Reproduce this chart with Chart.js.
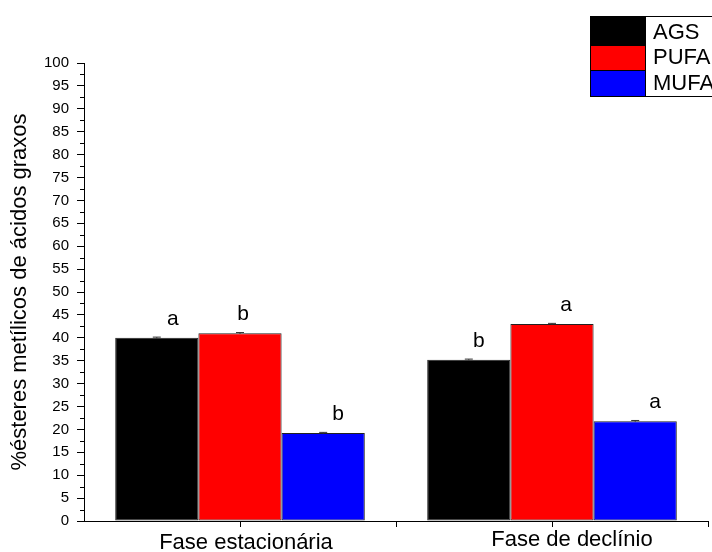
<!DOCTYPE html>
<html>
<head>
<meta charset="utf-8">
<script src="https://cdn.jsdelivr.net/npm/chart.js@4/dist/chart.umd.min.js"></script>
<style>
  html, body { margin: 0; padding: 0; background: #fff; overflow: hidden; }
  #wrap { width: 712px; height: 552px; }
</style>
</head>
<body>
<div id="wrap"><canvas id="fattyChart" width="712" height="552"></canvas></div>
<script>
const phases = ['Fase estacionária', 'Fase de declínio'];
const seriesNames = ['AGS', 'PUFA', 'MUFA'];
const agsValues = [40.0, 35.2];
const pufaValues = [41.0, 43.0];
const mufaValues = [19.2, 21.8];
const agsErrors = [0.15, 0.15];
const pufaErrors = [0.15, 0.15];
const mufaErrors = [0.15, 0.15];
const agsLetters = ['a', 'b'];
const pufaLetters = ['b', 'a'];
const mufaLetters = ['b', 'a'];
const yTicks = [0, 5, 10, 15, 20, 25, 30, 35, 40, 45, 50, 55, 60, 65, 70, 75, 80, 85, 90, 95, 100];

const colors = ['#000000', '#ff0000', '#0000ff'];
const font = "'Liberation Sans', Arial, sans-serif";

// minor ticks, boundary ticks, category labels, error bars, letters, boxed legend
const extras = {
  id: 'extras',
  afterDatasetsDraw(chart) {
    const ctx = chart.ctx;
    const y = chart.scales.y;
    const x = chart.scales.x;
    ctx.save();
    ctx.strokeStyle = '#000';
    ctx.lineWidth = 1;

    // y minor ticks
    for (let v = 2.5; v < 100; v += 5) {
      const py = Math.round(y.getPixelForValue(v)) + 0.5;
      ctx.beginPath();
      ctx.moveTo(x.left - 4, py);
      ctx.lineTo(x.left, py);
      ctx.stroke();
    }
    // x ticks at category boundaries
    for (let i = 1; i <= phases.length; i++) {
      const px = Math.round((x.getPixelForValue(i - 1) + x.getPixelForValue(i)) / 2) + 0.5;
      ctx.beginPath();
      ctx.moveTo(px, y.bottom);
      ctx.lineTo(px, y.bottom + 6);
      ctx.stroke();
    }
    // category labels (the second one sits a bit right and higher in the original)
    const labelShift = [[6, 0], [20, -3]];
    ctx.fillStyle = '#000';
    ctx.font = '22px ' + font;
    ctx.textAlign = 'center';
    ctx.textBaseline = 'alphabetic';
    phases.forEach((p, i) => {
      ctx.fillText(p, x.getPixelForValue(i) + labelShift[i][0], y.bottom + 28 + labelShift[i][1]);
    });

    const errs = [agsErrors, pufaErrors, mufaErrors];
    const letters = [agsLetters, pufaLetters, mufaLetters];
    const letterShift = [[16, 10], [3, 14], [15, 20]];
    chart.data.datasets.forEach((ds, di) => {
      const meta = chart.getDatasetMeta(di);
      meta.data.forEach((bar, i) => {
        const top = y.getPixelForValue(ds.data[i] + errs[di][i]);
        const bot = y.getPixelForValue(ds.data[i] - errs[di][i]);
        ctx.strokeStyle = '#333';
        ctx.beginPath();
        ctx.moveTo(bar.x, top); ctx.lineTo(bar.x, bot);
        ctx.moveTo(bar.x - 4, top); ctx.lineTo(bar.x + 4, top);
        ctx.stroke();
        ctx.fillStyle = '#000';
        ctx.font = '21px ' + font;
        ctx.textAlign = 'center';
        ctx.textBaseline = 'alphabetic';
        ctx.fillText(letters[di][i], bar.x + letterShift[di][i], bar.y - 13);
      });
    });

    // legend box, running off the right edge like the original
    const lx = 590, ly = 16, sw = 55;
    const rows = [[16, 45], [45, 70], [70, 96]];
    ctx.fillStyle = '#fff';
    ctx.fillRect(lx, ly, 130, 80);
    chart.data.datasets.forEach((ds, di) => {
      const r = rows[di];
      ctx.fillStyle = ds.backgroundColor;
      ctx.fillRect(lx, r[0], sw, r[1] - r[0]);
      ctx.strokeStyle = '#000';
      ctx.strokeRect(lx + 0.5, r[0] + 0.5, sw, r[1] - r[0]);
      ctx.fillStyle = '#000';
      ctx.font = '22px ' + font;
      ctx.textAlign = 'left';
      ctx.textBaseline = 'alphabetic';
      ctx.fillText(ds.label, lx + sw + 8, r[1] - 6);
    });
    ctx.strokeStyle = '#000';
    ctx.strokeRect(lx + 0.5, ly + 0.5, 140, 80);
    ctx.restore();
  }
};

new Chart(document.getElementById('fattyChart').getContext('2d'), {
  type: 'bar',
  data: {
    labels: phases,
    datasets: [
      { label: seriesNames[0], data: agsValues, backgroundColor: colors[0] },
      { label: seriesNames[1], data: pufaValues, backgroundColor: colors[1] },
      { label: seriesNames[2], data: mufaValues, backgroundColor: colors[2] }
    ].map(d => Object.assign(d, {
      borderColor: '#222', borderWidth: 1, borderSkipped: false,
      categoryPercentage: 0.8, barPercentage: 1
    }))
  },
  plugins: [extras],
  options: {
    responsive: false,
    animation: false,
    layout: { padding: { left: 0, right: 4, top: 63, bottom: 0 } },
    plugins: { legend: { display: false }, tooltip: { enabled: false } },
    scales: {
      x: {
        offset: true,
        grid: { offset: false, drawOnChartArea: false, drawTicks: true, tickLength: 6, color: '#000' },
        border: { display: true, color: '#000', width: 1 },
        ticks: { display: false },
        afterFit(s) { s.height = 31; }
      },
      y: {
        min: 0, max: 100,
        afterBuildTicks(s) { s.ticks = yTicks.map(v => ({ value: v })); },
        grid: { drawOnChartArea: false, drawTicks: true, tickLength: 7, color: '#000' },
        border: { display: true, color: '#000', width: 1 },
        ticks: { color: '#000', font: { family: font, size: 15 }, padding: 8 },
        title: {
          display: true, text: '%ésteres metílicos de ácidos graxos', color: '#000',
          font: { family: font, size: 22 }, padding: { top: 7, bottom: 0 }
        },
        afterFit(s) { s.width = 84; }
      }
    }
  }
});
</script>
</body>
</html>
